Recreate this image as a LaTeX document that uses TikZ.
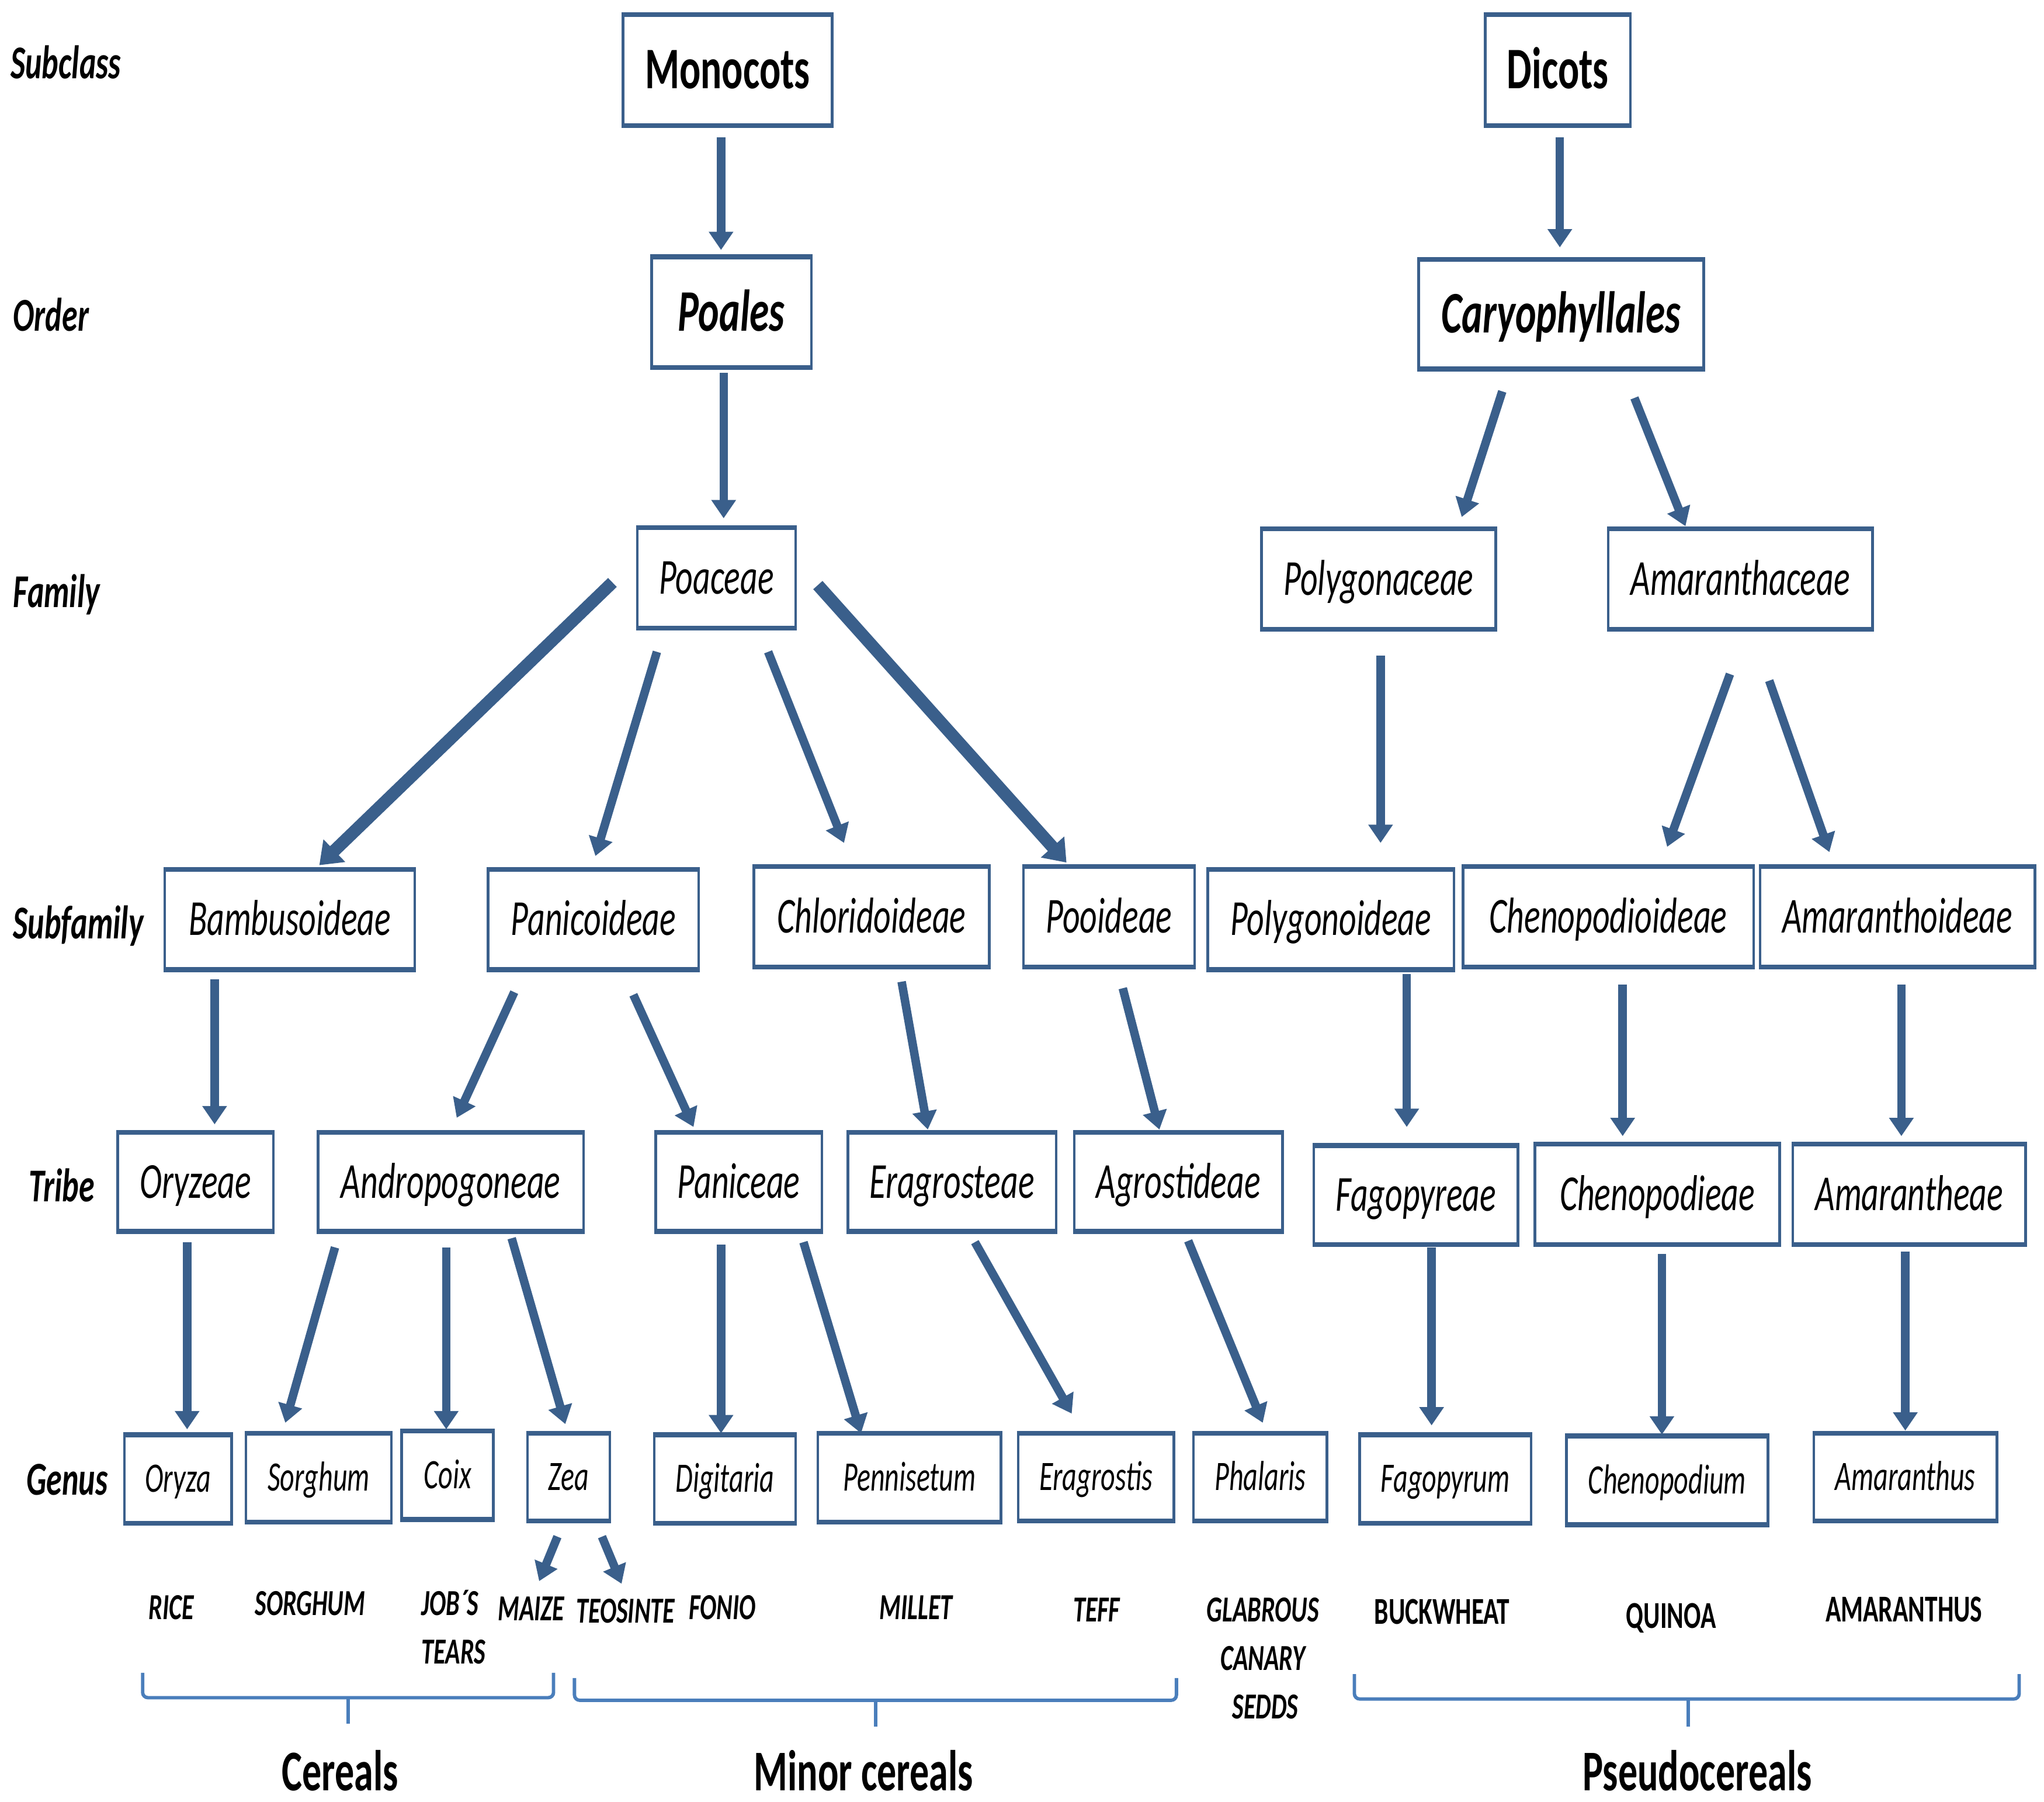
\documentclass[tikz,border=0pt]{standalone}
\usepackage{fontspec}
\setmainfont{Carlito}[FakeStretch=0.67]
\usetikzlibrary{arrows.meta,calc}
\definecolor{boxblue}{HTML}{3A5F8B}
\definecolor{braceblue}{HTML}{4A7EBB}
\newcommand\fTop{\fontsize{45}{48}\selectfont\bfseries}
\newcommand\fMid{\fontsize{38.5}{41}\selectfont\itshape}
\newcommand\fGen{\fontsize{32}{35}\selectfont\itshape}
\newcommand\fLab{\fontsize{36}{40}\selectfont\bfseries\itshape}
\newcommand\fNam{\fontsize{28}{37}\selectfont\bfseries\itshape}
\newcommand\fNup{\fontsize{29}{37}\selectfont\bfseries}
\newcommand\fEnd{\fontsize{44}{48}\selectfont\bfseries}
\begin{document}
\begin{tikzpicture}[x=1pt,y=-1pt,
  box/.style={draw=boxblue, line width=2pt, inner sep=0pt, text depth=0pt, fill=white},
  bigbox/.style={box, text height=28.5pt, font=\fTop},
  midbox/.style={box, text height=24.3pt, font=\fMid},
  genbox/.style={box, text height=20.2pt, font=\fGen},
  bar/.style={draw=boxblue, line width=3.5pt},
  arr/.style={draw=boxblue, line width=6.5pt, -{Triangle[length=14pt,width=18pt]}},
  thickarr/.style={draw=boxblue, line width=9.5pt, -{Triangle[length=16pt,width=23pt]}},
  lbl/.style={anchor=base west, inner sep=0pt, font=\fLab},
  cname/.style={anchor=base, inner sep=0pt, font=\fNam},
  cnameup/.style={anchor=base, inner sep=0pt, font=\fNup},
  group/.style={anchor=base, inner sep=0pt, font=\fEnd},
  brace/.style={draw=braceblue, line width=2.6pt, rounded corners=4pt}
]
\useasboundingbox (0,0) rectangle (1562,1376.7);

% row labels
\node[lbl] (lsubclass) at (8,60) {Subclass};
\node[lbl] (lorder) at (10,253) {Order};
\node[lbl] (lfamily) at (10,464) {Family};
\node[lbl] (lsubfamily) at (10,717) {Subfamily};
\node[lbl] (ltribe) at (22,918) {Tribe};
\node[lbl] (lgenus) at (20,1142) {Genus};

% subclass / order
\node[bigbox, minimum width=160, minimum height=83] (monocots) at (556,53.5) {Monocots};
\node[bigbox, minimum width=111, minimum height=83] (dicots) at (1190.5,53.5) {Dicots};
\node[bigbox, minimum width=122, minimum height=83] (poales) at (559,238.5) {\itshape Poales};
\node[bigbox, minimum width=218, minimum height=82] (caryo) at (1193,240) {\itshape Caryophyllales};

% family
\node[midbox, minimum width=121, minimum height=75] (poaceae) at (547.5,441.5) {Poaceae};
\node[midbox, minimum width=179, minimum height=75] (polygonaceae) at (1053.5,442.5) {Polygonaceae};
\node[midbox, minimum width=202, minimum height=75] (amaranthaceae) at (1330,442.5) {Amaranthaceae};

% subfamily
\node[midbox, minimum width=191, minimum height=75] (bambusoideae) at (221.5,702.5) {Bambusoideae};
\node[midbox, minimum width=161, minimum height=75] (panicoideae) at (453.5,702.5) {Panicoideae};
\node[midbox, minimum width=180, minimum height=75] (chloridoideae) at (666,700.5) {Chloridoideae};
\node[midbox, minimum width=131, minimum height=75] (pooideae) at (847.5,700.5) {Pooideae};
\node[midbox, minimum width=188, minimum height=75] (polygonoideae) at (1017,702.5) {Polygonoideae};
\node[midbox, minimum width=222, minimum height=75] (chenopodioideae) at (1229,700.5) {Chenopodioideae};
\node[midbox, minimum width=210, minimum height=75] (amaranthoideae) at (1450,700.5) {Amaranthoideae};

% tribe
\node[midbox, minimum width=119, minimum height=74] (oryzeae) at (149.5,903) {Oryzeae};
\node[midbox, minimum width=203, minimum height=74] (andropogoneae) at (344.5,903) {Andropogoneae};
\node[midbox, minimum width=127, minimum height=74] (paniceae) at (564.5,903) {Paniceae};
\node[midbox, minimum width=159, minimum height=74] (eragrosteae) at (727.5,903) {Eragrosteae};
\node[midbox, minimum width=159, minimum height=74] (agrostideae) at (900.5,903) {Agrostideae};
\node[midbox, minimum width=156, minimum height=74] (fagopyreae) at (1082,913) {Fagopyreae};
\node[midbox, minimum width=187, minimum height=75] (chenopodieae) at (1266.5,912.5) {Chenopodieae};
\node[midbox, minimum width=178, minimum height=75] (amarantheae) at (1459,912.5) {Amarantheae};

% genus
\node[genbox, minimum width=82, minimum height=66] (oryza) at (136,1130) {Oryza};
\node[genbox, minimum width=111, minimum height=66] (sorghum) at (243.5,1129) {Sorghum};
\node[genbox, minimum width=70, minimum height=66] (coix) at (342,1127) {Coix};
\node[genbox, minimum width=63, minimum height=65] (zea) at (434.5,1128.5) {Zea};
\node[genbox, minimum width=108, minimum height=66] (digitaria) at (554,1130) {Digitaria};
\node[genbox, minimum width=140, minimum height=66] (pennisetum) at (695,1129) {Pennisetum};
\node[genbox, minimum width=119, minimum height=65] (eragrostis) at (837.5,1128.5) {Eragrostis};
\node[genbox, minimum width=102, minimum height=65] (phalaris) at (963,1128.5) {Phalaris};
\node[genbox, minimum width=131, minimum height=66] (fagopyrum) at (1104.5,1130) {Fagopyrum};
\node[genbox, minimum width=154, minimum height=66] (chenopodium) at (1274,1131) {Chenopodium};
\node[genbox, minimum width=140, minimum height=65] (amaranthus) at (1456,1128.5) {Amaranthus};

% thicker top and bottom edges
\foreach \n in {monocots,dicots,poales,caryo,poaceae,polygonaceae,amaranthaceae,
  bambusoideae,panicoideae,chloridoideae,pooideae,polygonoideae,chenopodioideae,amaranthoideae,
  oryzeae,andropogoneae,paniceae,eragrosteae,agrostideae,fagopyreae,chenopodieae,amarantheae,
  oryza,sorghum,coix,zea,digitaria,pennisetum,eragrostis,phalaris,fagopyrum,chenopodium,amaranthus}
  \draw[bar] (\n.north west) -- (\n.north east) (\n.south west) -- (\n.south east);

% common names
\node[cname] (rice) at (131,1237) {RICE};
\node[cname] (sorghumname) at (237,1234) {SORGHUM};
\node[cname, anchor=base west] (jobs) at (322,1234) {JOB´S};
\node[cname, anchor=base west] (tears) at (322,1271) {TEARS};
\node[cname] (maize) at (406,1238) {MAIZE};
\node[cname] (teosinte) at (478,1240) {TEOSINTE};
\node[cname] (fonio) at (552,1237) {FONIO};
\node[cname] (millet) at (700,1237) {MILLET};
\node[cname] (teff) at (838,1239) {TEFF};
\node[cname] (glabrous) at (965,1239) {GLABROUS};
\node[cname] (canary) at (965,1276) {CANARY};
\node[cname] (sedds) at (967,1313) {SEDDS};
\node[cnameup] (buckwheat) at (1102,1241) {BUCKWHEAT};
\node[cnameup] (quinoa) at (1277,1244) {QUINOA};
\node[cnameup] (amaranthusname) at (1455,1239) {AMARANTHUS};

% arrows
\draw[arr] ($(monocots.south)+(-5,9)$) -- ($(poales.north)+(-8,-5)$);
\draw[arr] ($(poales.south)+(-6,4)$) -- ($(poaceae.north)+(5.5,-7)$);
\draw[arr] ($(dicots.south)+(1.5,9)$) -- ($(caryo.north)+(-1,-9)$);
\draw[arr] ($(caryo.south)+(-45,17)$) -- ($(polygonaceae.north)+(63.5,-9)$);
\draw[arr] ($(caryo.south)+(56,22)$) -- ($(amaranthaceae.north)+(-42,-2)$);
\draw[thickarr] ($(poaceae.west)+(-18,3.5)$) -- ($(bambusoideae.north)+(22.5,-3)$);
\draw[arr] ($(poaceae.south)+(-45.5,18)$) -- ($(panicoideae.north)+(1.5,-10)$);
\draw[arr] ($(poaceae.south)+(39.5,18)$) -- ($(chloridoideae.north)+(-21,-18)$);
\draw[thickarr] ($(poaceae.east)+(16,5.5)$) -- ($(pooideae.north)+(-32.5,-3)$);
\draw[arr] ($(polygonaceae.south)+(1.5,20)$) -- ($(polygonoideae.north)+(38,-20)$);
\draw[arr] ($(amaranthaceae.south)+(-8,34)$) -- ($(chenopodioideae.north)+(45,-15)$);
\draw[arr] ($(amaranthaceae.south)+(22,39)$) -- ($(amaranthoideae.north)+(-52,-11)$);
\draw[arr] ($(bambusoideae.south)+(-57.5,7)$) -- ($(oryzeae.north)+(14.5,-6)$);
\draw[arr] ($(panicoideae.south)+(-60.5,17)$) -- ($(andropogoneae.north)+(4.5,-11)$);
\draw[arr] ($(panicoideae.south)+(30.5,19)$) -- ($(paniceae.north)+(-34.5,-4)$);
\draw[arr] ($(chloridoideae.south)+(23,11)$) -- ($(eragrosteae.north)+(-18.5,-2)$);
\draw[arr] ($(pooideae.south)+(10.5,16)$) -- ($(agrostideae.north)+(-14.5,-2)$);
\draw[arr] ($(polygonoideae.south)+(58,3)$) -- ($(fagopyreae.north)+(-7,-14)$);
\draw[arr] ($(chenopodioideae.south)+(11,13)$) -- ($(chenopodieae.north)+(-26.5,-6)$);
\draw[arr] ($(amaranthoideae.south)+(3,13)$) -- ($(amarantheae.north)+(-6,-6)$);
\draw[arr] ($(oryzeae.south)+(-6.5,8)$) -- ($(oryza.north)+(7,-4)$);
\draw[arr] ($(andropogoneae.south)+(-88.5,12)$) -- ($(sorghum.north)+(-25.5,-8)$);
\draw[arr] ($(andropogoneae.south)+(-3.5,12)$) -- ($(coix.north)+(-1,-1)$);
\draw[arr] ($(andropogoneae.south)+(46.5,5)$) -- ($(zea.north)+(-2.5,-7)$);
\draw[arr] ($(paniceae.south)+(-13.5,10)$) -- ($(digitaria.north)+(-3,-1)$);
\draw[arr] ($(paniceae.south)+(49.5,8)$) -- ($(pennisetum.north)+(-37,0)$);
\draw[arr] ($(eragrosteae.south)+(17.5,8)$) -- ($(eragrostis.north)+(-18.5,-15)$);
\draw[arr] ($(agrostideae.south)+(7.5,7)$) -- ($(phalaris.north)+(2,-8)$);
\draw[arr] ($(fagopyreae.south)+(12,2)$) -- ($(fagopyrum.north)+(-10.5,-7)$);
\draw[arr] ($(chenopodieae.south)+(3.5,7)$) -- ($(chenopodium.north)+(-4,-1)$);
\draw[arr] ($(amarantheae.south)+(-3,5)$) -- ($(amaranthus.north)+(0,-2)$);
\draw[arr] ($(zea.south)+(-8.5,12)$) -- ($(maize.base)+(6,-30)$);
\draw[arr] ($(zea.south)+(25.5,12)$) -- ($(teosinte.base)+(-3,-30)$);

% braces
\coordinate (cstem) at (266,1297);
\draw[brace] (109,1278) -- (109,1297) -- (423,1297) -- (423,1278);
\draw[brace] (cstem) -- (266,1317);
\coordinate (mstem) at (669,1299);
\draw[brace] (439,1282) -- (439,1299) -- (899,1299) -- (899,1282);
\draw[brace] (mstem) -- (669,1319);
\coordinate (pstem) at (1290,1298);
\draw[brace] (1035,1279) -- (1035,1298) -- (1543,1298) -- (1543,1279);
\draw[brace] (pstem) -- (1290,1319);

% group labels
\node[group] (cereals) at (260,1368) {Cereals};
\node[group] (minor) at (660,1368) {Minor cereals};
\node[group] (pseudo) at (1297,1368) {Pseudocereals};
\end{tikzpicture}
\end{document}
